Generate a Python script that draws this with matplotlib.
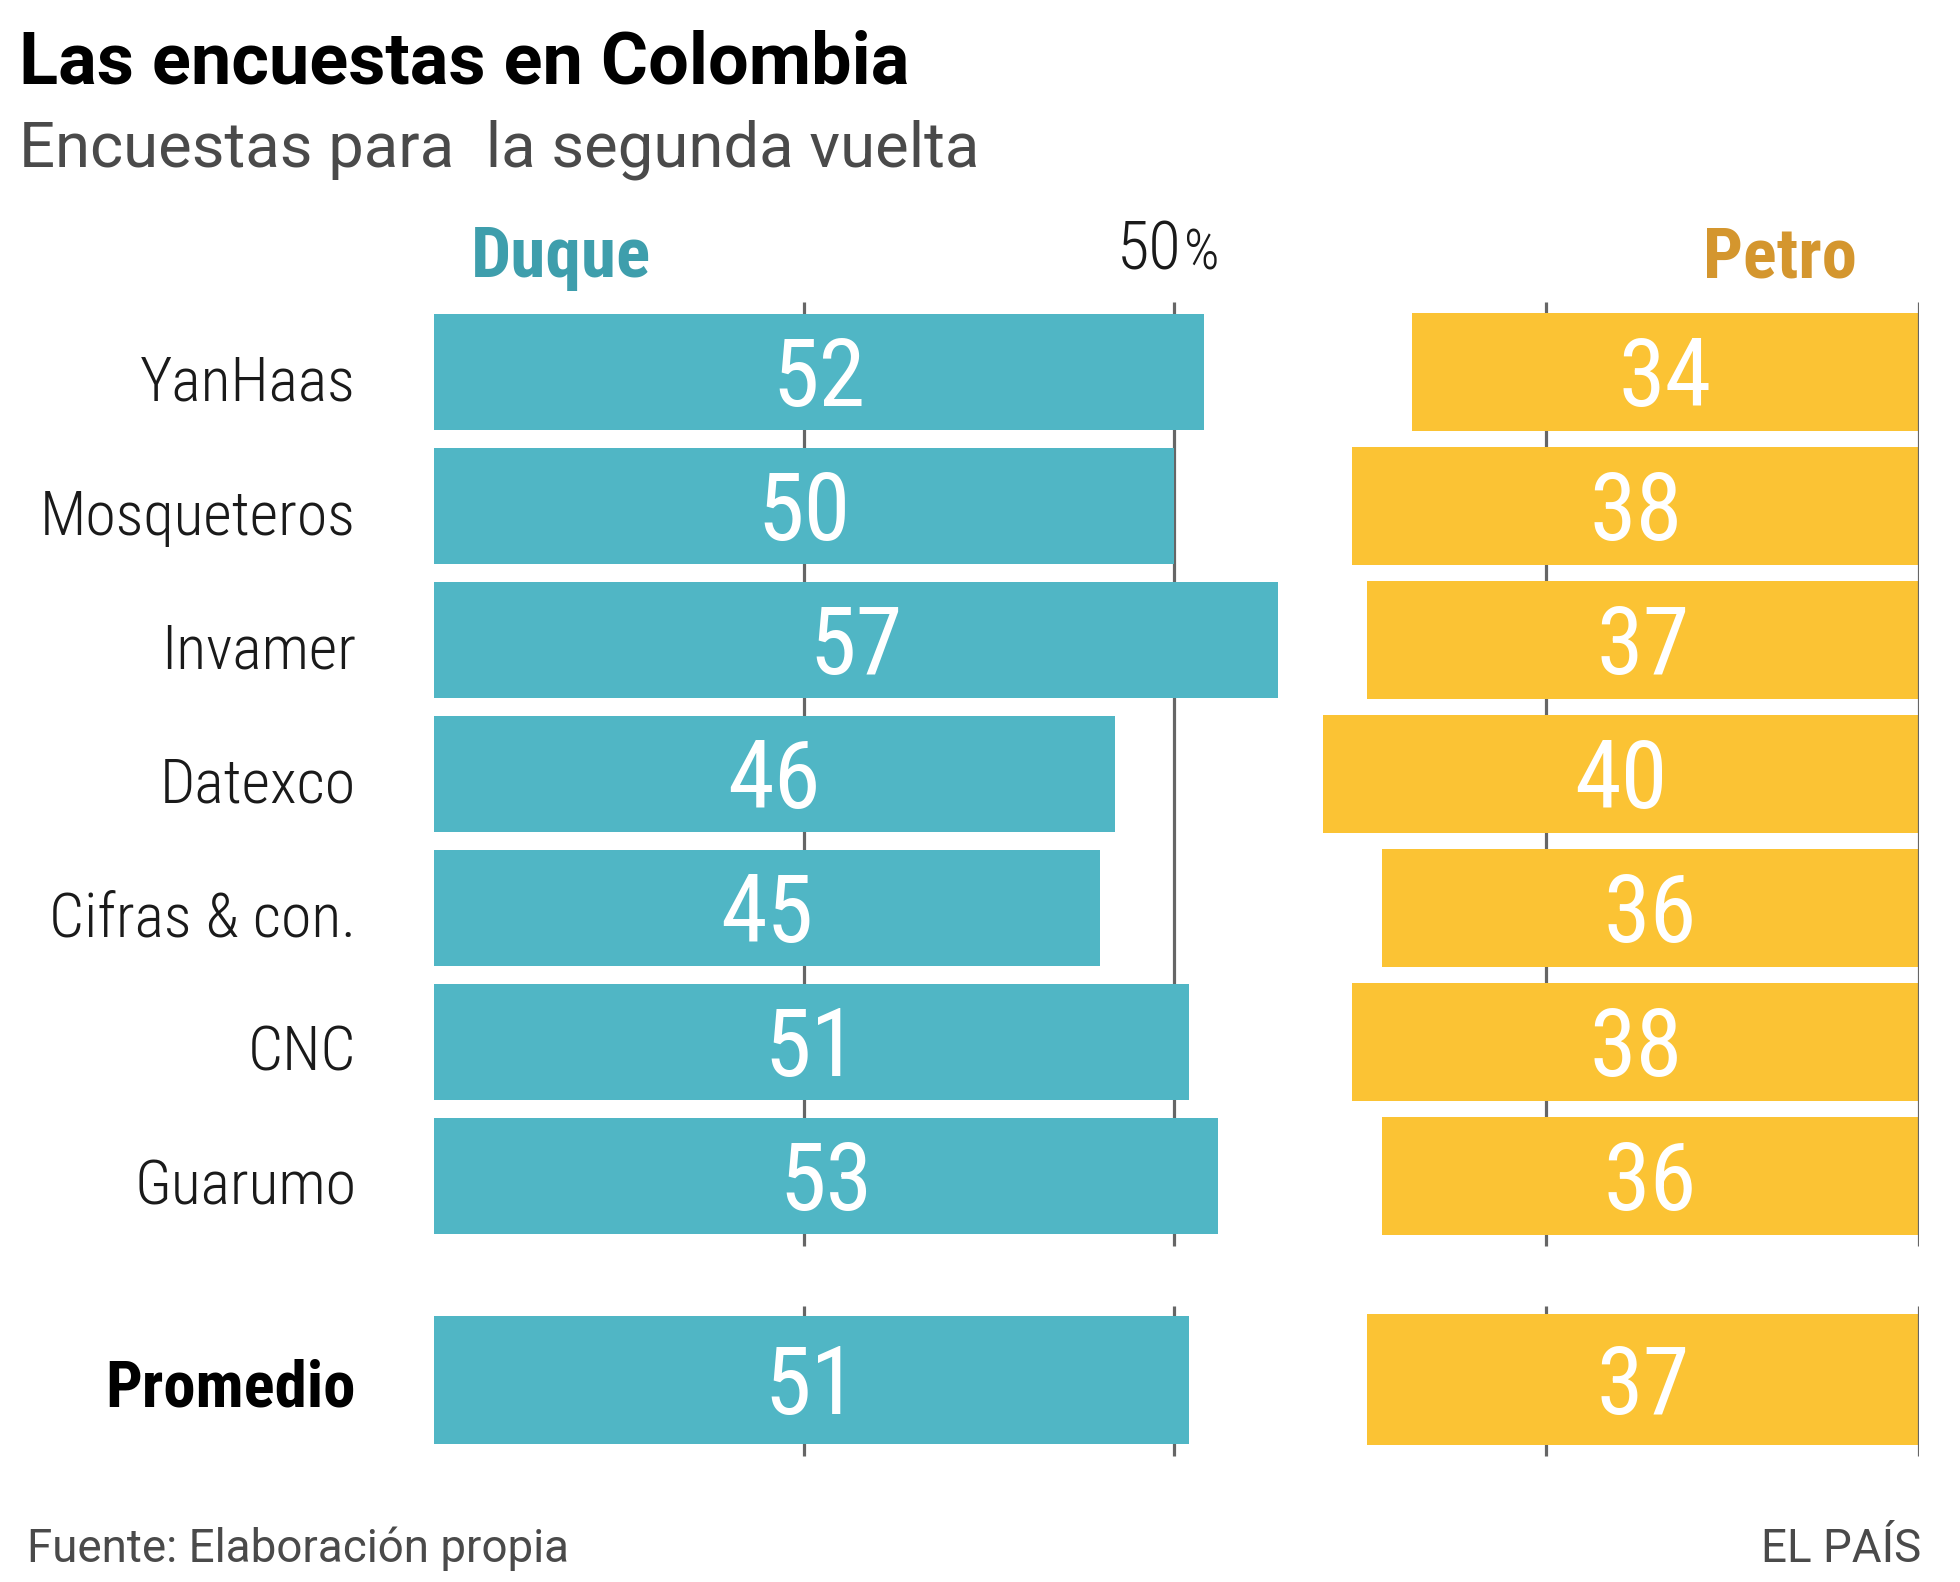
import matplotlib
matplotlib.use("Agg")
import matplotlib.pyplot as plt
from matplotlib import font_manager as fm

# ---------------- data ----------------
pollsters = ["YanHaas", "Mosqueteros", "Invamer", "Datexco", "Cifras & con.", "CNC", "Guarumo"]
duque = [52, 50, 57, 46, 45, 51, 53]
petro = [34, 38, 37, 40, 36, 38, 36]
avg_label = "Promedio"
duque_avg = 51
petro_avg = 37
grid_duque = [25, 50]
grid_petro = [25, 0]

title = "Las encuestas en Colombia"
subtitle = "Encuestas para  la segunda vuelta"
source = "Fuente: Elaboración propia"
brand = "EL PAÍS"

# ---------------- style ----------------
W, H, DPI = 1960, 1582, 100
TEAL = "#50B6C5"
YELLOW = "#FBC334"
TEAL_TXT = "#3E9EAC"
GOLD_TXT = "#D4962E"
GRID = "#666666"
DARK = "#1A1A1A"
GREY = "#4A4A4A"

names = {f.name for f in fm.fontManager.ttflist}


def pick(cands, default):
    for c in cands:
        if c in names:
            return c
    return default


COND = pick(["Roboto Condensed", "DejaVu Sans Condensed", "Liberation Sans Narrow"], "Roboto")
SANS = pick(["Roboto", "Lato"], "DejaVu Sans")

fig = plt.figure(figsize=(W / DPI, H / DPI), dpi=DPI)
fig.patch.set_facecolor("white")
renderer = fig.canvas.get_renderer()

# pixel layout
ROW0 = 372.0      # pixel center of first row
PITCH = 134.0     # pixel pitch between rows
PX_L = 14.80      # pixels per percentage point (Duque side)
PX_R = 14.91      # pixels per percentage point (Petro side)
AX_TOP, AX_BOT = 290.0, 1470.0


def px_axes(x0, x1):
    ax = fig.add_axes([x0 / W, 1 - AX_BOT / H, (x1 - x0) / W, (AX_BOT - AX_TOP) / H])
    ax.set_ylim((AX_BOT - ROW0) / PITCH, (AX_TOP - ROW0) / PITCH)
    ax.axis("off")
    ax.patch.set_alpha(0)
    return ax


rows = list(range(len(pollsters)))
avg_row = len(pollsters) + 0.52

L0 = 434.0
axL = px_axes(L0, L0 + 58 * PX_L)
axL.set_xlim(0, 58)
R1 = 1919.0
axR = px_axes(R1 - 42 * PX_R, R1)
axR.set_xlim(42, 0)

main_top, main_bot = -0.52, len(pollsters) - 0.48
avg_top, avg_bot = avg_row - 0.55, avg_row + 0.57

for ax, grid in ((axL, grid_duque), (axR, grid_petro)):
    for g in grid:
        z = 3 if g == 0 else 1
        ax.vlines(g, main_top, main_bot, color=GRID, lw=2.3, zorder=z)
        ax.vlines(g, avg_top, avg_bot, color=GRID, lw=2.3, zorder=z)

axL.barh(rows, duque, height=0.86, color=TEAL, zorder=2)
axL.barh([avg_row], [duque_avg], height=0.955, color=TEAL, zorder=2)
axR.barh(rows, petro, height=0.88, color=YELLOW, zorder=2)
axR.barh([avg_row], [petro_avg], height=0.98, color=YELLOW, zorder=2)

NUM_FS = 68
for ax, vals, avg in ((axL, duque, duque_avg), (axR, petro, petro_avg)):
    for r, v in zip(rows + [avg_row], vals + [avg]):
        ax.text(v / 2, r + 0.254, str(v), ha="center", va="baseline",
                color="white", fontsize=NUM_FS, family=COND, zorder=4)

# row labels (right aligned)
lab_x = -(L0 - 356) / PX_L
lab_texts = []
for r, name in zip(rows, pollsters):
    t = axL.text(lab_x, r + 0.215, name, ha="right", va="baseline",
                 color=DARK, fontsize=45, family=COND, weight="light")
    lab_texts.append(t)
avg_t = axL.text(lab_x, avg_row + 0.2, avg_label, ha="right",
                 va="baseline", color="black", fontsize=45, family=COND, weight="bold")


def fit(t, target, base):
    w = t.get_window_extent(renderer).width
    t.set_fontsize(base * target / w)


# fit labels to the reference widths
w_mosq = lab_texts[1].get_window_extent(renderer).width
scale = 316.0 / w_mosq
for t in lab_texts:
    t.set_fontsize(45 * scale)
fit(avg_t, 250, 45)


def ftext(x, y, s, **kw):
    return fig.text(x / W, 1 - y / H, s, **kw)


t1 = ftext(19, 84, title, ha="left", va="baseline", fontsize=47, weight="bold",
           family=SANS, color="black")
fit(t1, 890, 47)
t2 = ftext(19, 166, subtitle, ha="left", va="baseline", fontsize=47, weight="normal",
           family=SANS, color=GREY)
fit(t2, 960, 47)

t3 = ftext(471, 277, "Duque", ha="left", va="baseline", fontsize=50, weight="bold",
           family=COND, color=TEAL_TXT)
fit(t3, 180, 50)
t4 = ftext(1857, 277, "Petro", ha="right", va="baseline", fontsize=50, weight="bold",
           family=COND, color=GOLD_TXT)
fit(t4, 154, 50)

ftext(1182, 270, "50", ha="right", va="baseline", fontsize=48, weight="light",
      family=COND, color=DARK)
ftext(1184, 270, "%", ha="left", va="baseline", fontsize=40, weight="light",
      family=COND, color=DARK)

t5 = ftext(27, 1562, source, ha="left", va="baseline", fontsize=32, weight="normal",
           family=SANS, color=GREY)
fit(t5, 543, 32)
ftext(1921, 1562, brand, ha="right", va="baseline", fontsize=t5.get_fontsize(),
      weight="normal", family=SANS, color=GREY)

fig.savefig("out.png", dpi=DPI, facecolor="white")
